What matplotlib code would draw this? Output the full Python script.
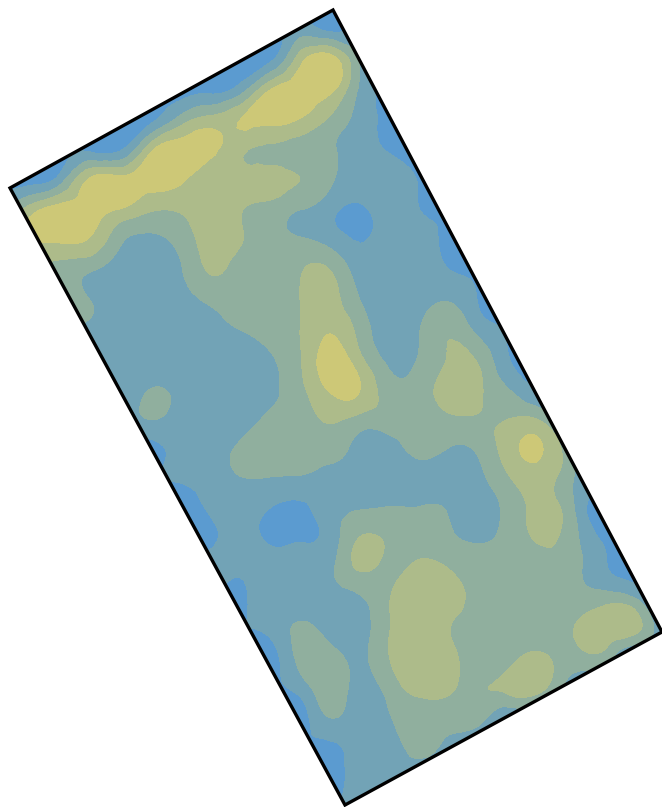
import numpy as np
import matplotlib
matplotlib.use("Agg")
import matplotlib.pyplot as plt
import matplotlib.tri as mtri
from matplotlib.patches import Polygon

# values on a 30 px grid, 0-1 blue ... 4+ yellow
x_vals = np.arange(0, 661, 30)
y_vals = np.arange(0, 811, 30)

r00 = [.5,.5,.5,.5,.5,.5,.5,.5,.5,.5,.5,.5,.5,.5,.5,.5,.5,.5,.5,.5,.5,.5,.5]
r01 = [.5,.5,.5,.5,.5,.5,.5,.5,.5,.5,1.5,.8,1.0,.5,.5,.5,.5,.5,.5,.5,.5,.5,.5]
r02 = [.5,.5,.5,.5,.5,.5,.5,.5,.6,.8,3.6,4.6,1.9,.6,.5,.5,.5,.5,.5,.5,.5,.5,.5]
r03 = [.5,.5,.5,.5,.5,.5,.6,.7,1.5,4.0,4.6,4.3,1.8,.7,.5,.5,.5,.5,.5,.5,.5,.5,.5]
r04 = [.5,.5,.5,.5,.6,.7,2.4,3.4,4.0,4.4,3.9,2.8,1.6,.7,.5,.5,.5,.5,.5,.5,.5,.5,.5]
r05 = [.5,.5,.6,.8,.9,3.7,4.6,4.3,3.2,2.8,2.6,2.2,1.5,.9,.5,.5,.5,.5,.5,.5,.5,.5,.5]
r06 = [.5,.6,1.5,4.2,4.5,4.5,4.2,3.3,3.4,3.4,3.0,2.2,1.5,1.5,.9,.5,.5,.5,.5,.5,.5,.5,.5]
r07 = [1.5,3.5,4.5,4.4,3.9,3.1,3.1,3.5,3.1,2.6,2.0,1.3,.85,1.4,1.0,.8,.5,.5,.5,.5,.5,.5,.5]
r08 = [2.5,4.0,4.2,3.9,2.2,1.8,2.3,3.5,3.1,2.5,2.1,1.6,.95,1.5,1.5,.7,.5,.5,.5,.5,.5,.5,.5]
r09 = [2.5,2.6,2.6,2.1,1.7,1.6,1.9,3.1,2.5,2.3,2.9,3.0,1.5,1.5,1.5,1.0,.8,.5,.5,.5,.5,.5,.5]
r10 = [2,2,2.3,2.0,1.6,1.5,1.6,2.2,2.5,2.5,3.0,3.4,2.0,1.5,1.6,1.9,.9,.6,.5,.5,.5,.5,.5]
r11 = [2,2,2,1.8,1.5,1.5,1.5,1.5,2.0,2.3,3.0,3.9,2.6,1.5,2.0,2.9,1.6,.9,.5,.5,.5,.5,.5]
r12 = [1.5,1.5,1.5,1.5,1.5,1.6,1.5,1.4,1.4,1.9,2.9,4.5,3.3,1.8,2.1,3.1,2.8,1.0,.6,.5,.5,.5,.5]
r13 = [1.5,1.5,1.5,1.5,1.4,2.02,1.75,1.4,1.4,1.8,2.7,4.1,4.0,2.4,2.5,3.4,3.1,2.0,.9,.6,.5,.5,.5]
r14 = [1.4,1.4,1.4,1.4,1.4,1.98,1.65,1.5,1.5,2.2,2.5,3.1,2.6,2.5,2.6,2.8,2.9,3.05,2.95,1.0,.5,.5,.5]
r15 = [1,1,1,1,1,.6,1.5,1.6,2.2,2.5,2.5,2.4,1.6,1.5,2.3,1.9,2.2,3.6,4.1,2.3,.6,.5,.5]
r16 = [1,1,1,1,1,1,1.1,1.5,1.9,1.9,1.8,1.6,1.5,1.5,1.5,1.5,1.8,2.9,3.5,2.2,1.0,.5,.5]
r17 = [1,1,1,1,1,1,.5,1.1,1.4,.95,.8,1.5,2.0,2.1,2.1,1.9,1.5,2.4,3.3,2.4,.2,.5,.5]
r18 = [1,1,1,1,1,1,1,.9,1.3,.9,.95,1.4,3.1,2.8,2.5,2.2,1.9,2.4,3.1,2.5,1.0,.5,.5]
r19 = [1,1,1,1,1,1,1,1.2,1.1,1.4,1.4,1.8,3.05,2.8,3.3,3.0,2.6,2.5,2.5,2.4,1.3,.6,.5]
r20 = [1,1,1,1,1,1,1,1,.9,1.4,1.6,1.5,1.8,3.0,3.5,3.3,2.7,2.5,2.5,2.5,2.6,2.4,.3]
r21 = [1,1,1,1,1,1,1,1,1,1.2,2.2,1.6,1.5,3.0,3.5,3.0,2.6,2.5,2.6,2.95,3.5,3.5,1.5]
r22 = [1,1,1,1,1,1,1,1,1,.6,2.3,2.6,1.8,3.0,3.5,3.2,2.5,2.7,3.3,2.5,2.6,.6,.5]
r23 = [1,1,1,1,1,1,1,1,1,.9,1.3,2.6,1.6,2.4,3.2,3.05,2.95,3.3,3.2,1.5,1,.5,.5]
r24 = [1,1,1,1,1,1,1,1,1,1,.6,1.9,1.4,1.9,2.5,2.5,2.2,1,1,1,1,.5,.5]
r25 = [1,1,1,1,1,1,1,1,1,1,1,.7,1.4,1.5,2.3,1.5,1,1,1,1,1,.5,.5]
r26 = [1,1,1,1,1,1,1,1,1,1,1,.7,1.4,1.5,1,1,1,1,1,1,1,.5,.5]
r27 = [1,1,1,1,1,1,1,1,1,1,1,1,1,1,1,1,1,1,1,1,1,.5,.5]

grid = np.array([r00, r01, r02, r03, r04, r05, r06, r07, r08, r09, r10, r11, r12, r13,
                 r14, r15, r16, r17, r18, r19, r20, r21, r22, r23, r24, r25, r26, r27])

levels = [-5, 1, 2, 3, 4, 9]
colors = ["#5b9bd0", "#72a3b6", "#90af9e", "#adbb8a", "#cdc877"]
outline = [(333, 10), (662, 632), (345, 805), (10, 188)]

fig = plt.figure(figsize=(6.62, 8.07), dpi=100)
ax = fig.add_axes([0, 0, 1, 1])

# let matplotlib round off the contours
X, Y = np.meshgrid(x_vals, y_vals)
tri = mtri.Triangulation(X.ravel(), Y.ravel())
refiner = mtri.UniformTriRefiner(tri)
fine_tri, fine_z = refiner.refine_field(grid.ravel(), subdiv=3)
cs = ax.tricontourf(fine_tri, fine_z, levels=levels, colors=colors)

frame = Polygon(outline, closed=True, fill=False, edgecolor="black", linewidth=2.4, zorder=5)
ax.add_patch(frame)
cs.set_clip_path(frame)

ax.set_xlim(0, 662)
ax.set_ylim(807, 0)
ax.axis("off")

fig.savefig("out.png", dpi=100)
